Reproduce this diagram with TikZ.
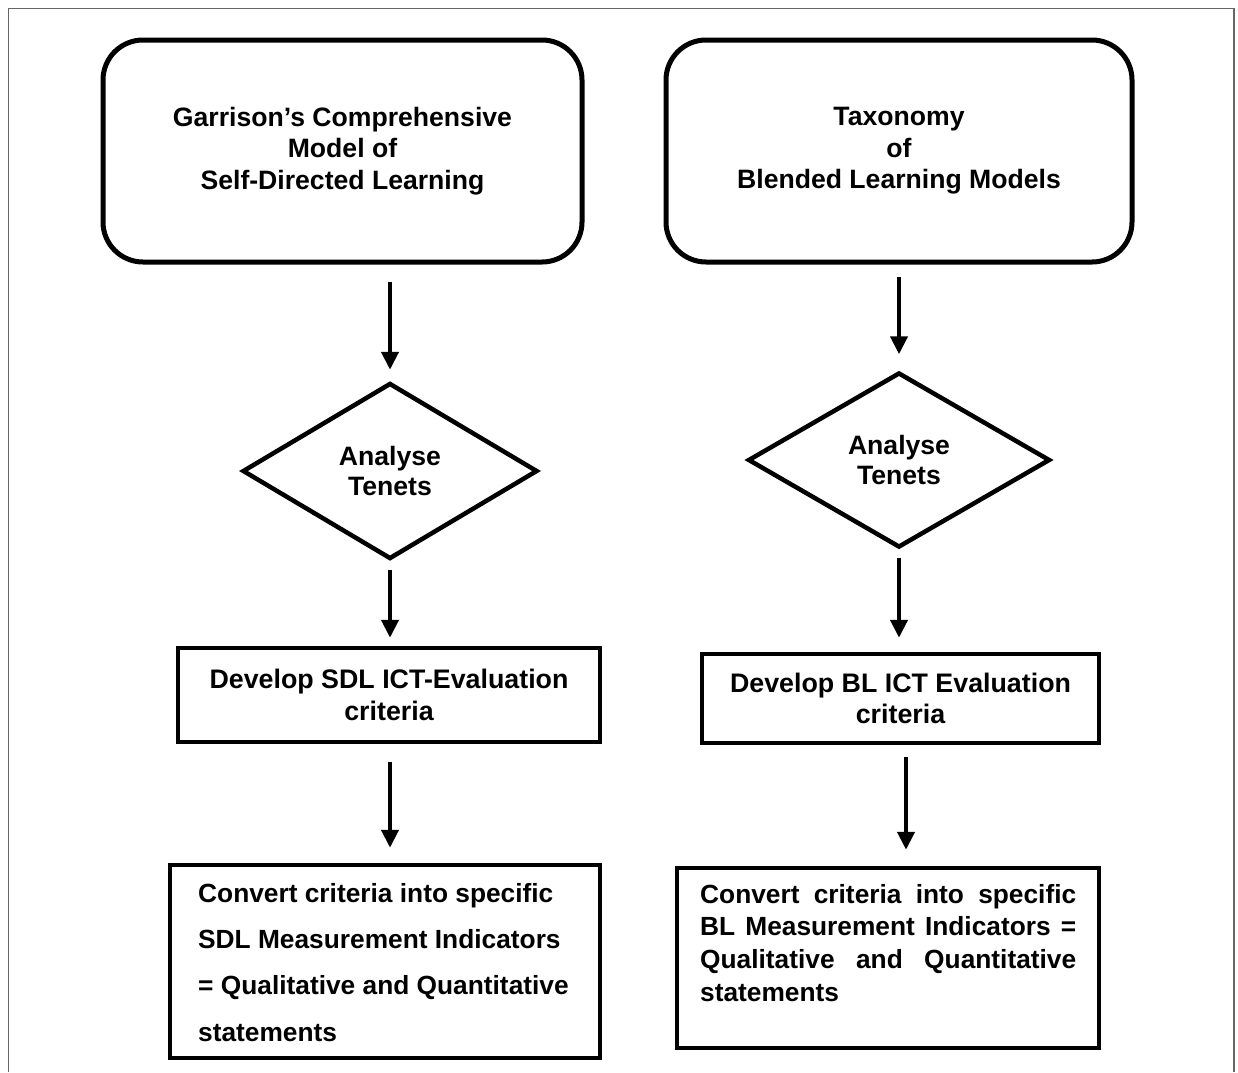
\documentclass[tikz,border=0pt]{standalone}
\usepackage{fontspec}
\setmainfont{Liberation Sans}
\usetikzlibrary{arrows.meta,shapes.geometric}
\begin{document}
\begin{tikzpicture}[x=1pt,y=-1pt,
  every node/.style={font=\fontsize{26.6}{31.5}\selectfont\bfseries, inner sep=0pt},
  topbox/.style={draw, line width=5pt, rounded corners=40pt, align=center},
  stepbox/.style={draw, line width=4.5pt, align=center},
  decision/.style={draw, diamond, line width=4.5pt, align=center},
  bodytext/.style={align=left, anchor=north west},
  flow/.style={line width=4.2pt, -{Triangle[length=18pt,width=17pt]}},
  frame/.style={draw=black!60, line width=1.8pt}]

\useasboundingbox (0,0) rectangle (1238,1072);
\draw[frame] (8.5,1072) -- (8.5,8.5) -- (1234,8.5) -- (1234,1072);

% left column: self-directed learning
\node[topbox, minimum width=479pt, minimum height=222pt] (L1) at (342.5,151)
  {Garrison’s Comprehensive\\Model of\\Self-Directed Learning};
\node[decision, minimum width=295pt, minimum height=176pt,
  font=\fontsize{26.6}{30.5}\selectfont\bfseries] (D1) at (390,471) {Analyse\\Tenets};
\node[stepbox, minimum width=422pt, minimum height=94pt,
  font=\fontsize{26.8}{32}\selectfont\bfseries] (B3L) at (389,695)
  {Develop SDL ICT-Evaluation\\criteria};
\node[stepbox, minimum width=430pt, minimum height=193pt] (B4L) at (385,961.5) {};
\node[bodytext, font=\fontsize{26.3}{46.3}\selectfont\bfseries] (T4L) at (198,883)
  {Convert criteria into specific\\SDL Measurement Indicators\\= Qualitative and Quantitative\\statements};

% right column: blended learning
\node[topbox, minimum width=466pt, minimum height=222pt] (R1) at (899,151)
  {Taxonomy\\of\\Blended Learning Models};
\node[decision, minimum width=302pt, minimum height=175pt,
  font=\fontsize{26.6}{29.5}\selectfont\bfseries] (D2) at (899,460) {Analyse\\Tenets};
\node[stepbox, minimum width=397pt, minimum height=89pt,
  font=\fontsize{26.8}{30.5}\selectfont\bfseries] (B3R) at (900.5,698.5)
  {Develop BL ICT Evaluation\\criteria};
\node[stepbox, minimum width=422pt, minimum height=180pt] (B4R) at (888,958) {};
\node[bodytext, font=\fontsize{26.3}{32.7}\selectfont\bfseries] (T4R) at (700,884)
  {\makebox[376pt][s]{Convert criteria into specific}\\
   \makebox[376pt][s]{BL Measurement Indicators =}\\
   \makebox[376pt][s]{Qualitative and Quantitative}\\
   statements};

% connectors
\draw[flow, shorten <=17.5pt, shorten >=11pt] (L1.south -| D1.north) -- (D1.north);
\draw[flow, shorten <=9pt, shorten >=8pt] (D1.south) -- (D1.south |- B3L.north);
\draw[flow, shorten <=18pt, shorten >=15pt] (B3L.south -| D1.south) -- (D1.south |- B4L.north);

\draw[flow, shorten <=12.5pt, shorten >=16pt] (R1.south) -- (D2.north);
\draw[flow, shorten <=8pt, shorten >=14pt] (D2.south) -- (D2.south |- B3R.north);
\coordinate (c3) at ([xshift=5.5pt]B3R.south);
\draw[flow, shorten <=12pt, shorten >=16pt] (c3) -- (c3 |- B4R.north);
\end{tikzpicture}
\end{document}
